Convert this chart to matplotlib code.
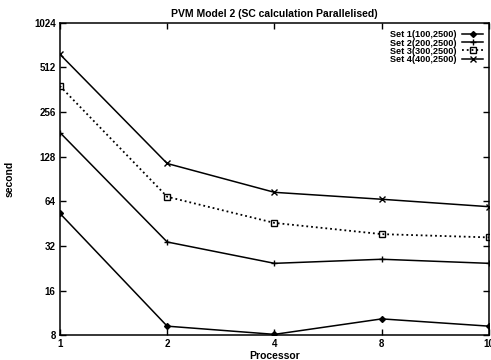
import numpy as np
import matplotlib.pyplot as plt
from matplotlib.ticker import FixedLocator, FixedFormatter, NullLocator

# 数据
processors = ["1", "2", "4", "8", "10"]
set1 = [53, 9.2, 8.1, 10.3, 9.2]
set2 = [186, 34, 24.4, 26, 24.4]
set3 = [383, 68.6, 45.7, 38.4, 36.5]
set4 = [627, 115, 73.5, 66, 58.8]
labels = ["Set 1(100,2500)", "Set 2(200,2500)", "Set 3(300,2500)", "Set 4(400,2500)"]
yticks = [8, 16, 32, 64, 128, 256, 512, 1024]

plt.rcParams['font.family'] = ['Liberation Sans', 'DejaVu Sans']
plt.rcParams['font.weight'] = 'bold'

fig = plt.figure(figsize=(4.91, 3.6), dpi=100)
ax = fig.add_axes([0.122, 0.069, 0.874, 0.868])

x = np.arange(len(processors))
ax.plot(x, set1, 'k-', marker='D', ms=3, lw=1.1, label=labels[0])
ax.plot(x, set2, 'k-', marker='+', ms=5, mew=1.0, lw=1.1, label=labels[1])
ax.plot(x, set3, 'k:', marker='s', ms=4, mfc='none', mew=1.0, lw=1.3, label=labels[2])
ax.plot(x, set4, 'k-', marker='x', ms=4, mew=1.0, lw=1.1, label=labels[3])

ax.set_yscale('log', base=2)
ax.set_ylim(8, 1024)
ax.set_xlim(0, len(processors) - 1)
ax.yaxis.set_major_locator(FixedLocator(yticks))
ax.yaxis.set_major_formatter(FixedFormatter([str(v) for v in yticks]))
ax.yaxis.set_minor_locator(NullLocator())
ax.set_xticks(x)
ax.set_xticklabels(processors)

ax.tick_params(direction='in', top=True, right=True, length=4, width=1,
               labelsize=7, pad=3)
for s in ax.spines.values():
    s.set_linewidth(1.1)

ax.set_title('PVM Model 2 (SC calculation Parallelised)', fontsize=7.5,
             fontweight='bold', pad=4)
ax.set_xlabel('Processor', fontsize=7.5, fontweight='bold', labelpad=1)
ax.set_ylabel('second', fontsize=7.5, fontweight='bold', labelpad=14)

ax.legend(loc='upper right', frameon=False, markerfirst=False, fontsize=6.6,
          handlelength=2.2, handletextpad=0.6, labelspacing=-0.1,
          borderaxespad=0.0, borderpad=0.0, bbox_to_anchor=(0.985, 0.975))

plt.savefig('out.png', dpi=100)
